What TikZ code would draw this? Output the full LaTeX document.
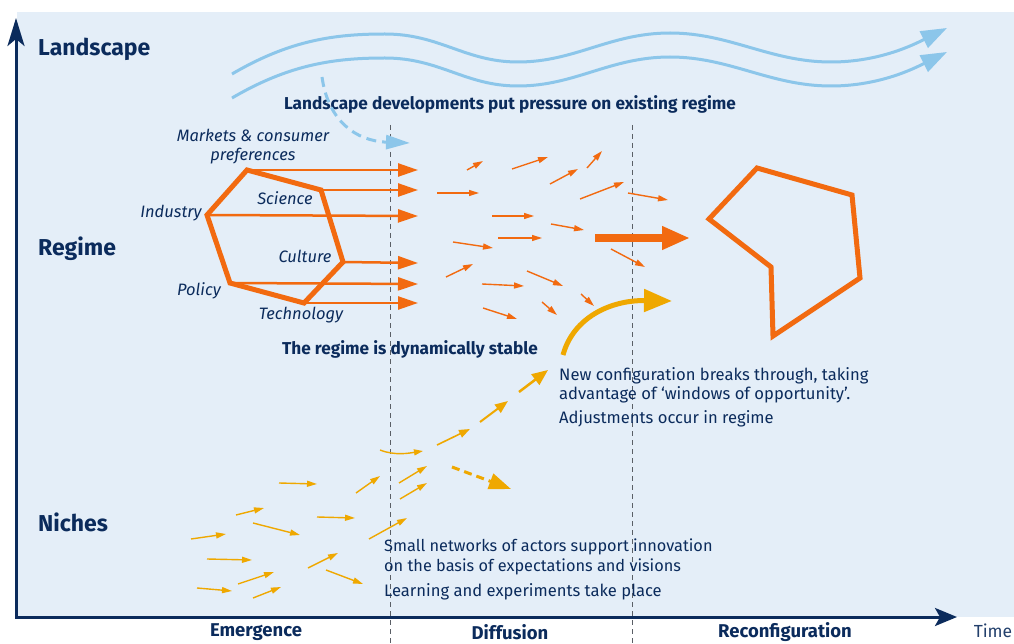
\documentclass[tikz,border=0pt]{standalone}
\usepackage{fontspec}
\setmainfont{Fira Sans}
\usetikzlibrary{arrows.meta}
\definecolor{navy}{HTML}{0B2B5C}
\definecolor{orng}{HTML}{F26A10}
\definecolor{gold}{HTML}{EFA800}
\definecolor{sky}{HTML}{8CC6EA}
\definecolor{bgblue}{HTML}{E4EEF8}
\definecolor{phaseline}{HTML}{5A5F66}
\tikzset{
  tierlabel/.style={text=navy, inner sep=0pt, anchor=west, font=\fontsize{23}{26}\selectfont\bfseries},
  factor/.style={text=navy, inner sep=0pt, font=\fontsize{16.5}{19}\selectfont\itshape},
  remark/.style={text=navy, inner sep=0pt, anchor=west, align=left, font=\fontsize{16.6}{19}\selectfont},
  boldnote/.style={text=navy, inner sep=0pt, font=\fontsize{17.2}{20}\selectfont\bfseries},
  phaselabel/.style={text=navy, inner sep=0pt, font=\fontsize{18.5}{21}\selectfont\bfseries},
  phasesep/.style={phaseline, line width=0.8pt, dash pattern=on 5pt off 4pt},
  regimeline/.style={orng, line width=5pt, line join=miter},
  pull/.style={orng, line width=2.5pt, -{Triangle[length=20pt,width=13pt]}},
  drift/.style={orng, line width=1.4pt, -{Triangle[length=10pt,width=6pt]}},
  seed/.style={gold, line width=1.4pt, -{Triangle[length=10pt,width=6pt]}},
  wave/.style={sky, line width=3pt, -{Triangle[length=26pt,width=18pt]}}
}
\begin{document}
\begin{tikzpicture}[x=1pt,y=-1pt]
\useasboundingbox (0,0) rectangle (1014,644);
\fill[bgblue] (17,12) rectangle (1014,617);

\coordinate (sepA top) at (390,125);
\coordinate (sepA bot) at (390,644);
\coordinate (sepB top) at (632,125);
\coordinate (sepB bot) at (632,644);
\draw[phasesep] (sepA top) -- (sepA bot);
\draw[phasesep] (sepB top) -- (sepB bot);

\coordinate (origin) at (16,617);
\coordinate (ytip) at (16,18);
\coordinate (xtip) at (957,617);
\draw[navy, line width=3pt, {Stealth[length=28pt,width=17pt,inset=7pt]}-{Stealth[length=22pt,width=18pt,inset=5pt]}]
    (ytip) -- (origin) -- (xtip);

\node[tierlabel] (landscape) at (38,49) {Landscape};
\node[tierlabel] (regime) at (38,249) {Regime};
\node[tierlabel] (niches) at (38,522) {Niches};

\node[phaselabel] (emergence) at (256,632) {Emergence};
\node[phaselabel] (diffusion) at (510,632) {Diffusion};
\node[phaselabel] (reconfig) at (785,632) {Reconfiguration};
\node[text=navy!90, inner sep=0pt, font=\fontsize{17.5}{20}\selectfont] (time) at (993,631) {Time};

\draw[wave] (232,74) .. controls (290,40) and (335,34) .. (385,34)
    .. controls (440,34) and (465,62) .. (518,62)
    .. controls (575,62) and (610,33) .. (670,33)
    .. controls (730,33) and (770,62) .. (831,62)
    .. controls (880,62) and (915,44) .. (947,28);
\draw[wave] (232,98) .. controls (290,64) and (335,58) .. (385,58)
    .. controls (440,58) and (465,86) .. (518,86)
    .. controls (575,86) and (610,57) .. (670,57)
    .. controls (730,57) and (770,86) .. (831,86)
    .. controls (880,86) and (915,68) .. (947,52);

\node[boldnote] (pressure) at (510,104) {Landscape developments put pressure on existing regime};
\coordinate (push a) at (322,77);
\coordinate (push b) at (410,143);
\draw[sky, line width=3pt, dash pattern=on 10pt off 6pt, -{Triangle[length=24pt,width=14pt]}]
    (push a) .. controls (328,120) and (355,141) .. (push b);

\coordinate (hxTop) at (247,170);
\coordinate (hxSci) at (321,190);
\coordinate (hxCul) at (343,262);
\coordinate (hxTec) at (304,303);
\coordinate (hxPol) at (230,283);
\coordinate (hxInd) at (207,215);
\draw[regimeline] (hxTop) -- (hxSci) -- (hxCul) -- (hxTec) -- (hxPol) -- (hxInd) -- cycle;
\foreach \c/\y in {hxTop/170, hxSci/190, hxInd/216, hxCul/263, hxPol/284, hxTec/303} {
    \coordinate (\c end) at (418,\y);
    \draw[pull] (\c) -- (\c end);
}

\node[factor, align=center] (markets) at (253,147) {Markets \& consumer\\preferences};
\node[factor] (science) at (285,198) {Science};
\node[factor] (industry) at (171,213) {Industry};
\node[factor] (culture) at (305,256) {Culture};
\node[factor] (policy) at (199,291) {Policy};
\node[factor] (technology) at (301,315) {Technology};

\foreach \i/\ax/\ay/\bx/\by in {1/467/170/483/161, 2/512/169/548/157, 3/550/184/578/169,
    4/587/168/602/151, 5/437/193/479/193, 6/580/199/624/182, 7/628/193/668/200,
    8/492/216/534/216, 9/551/224/584/230, 10/498/238/542/238, 11/453/242/493/248,
    12/611/249/645/267, 13/446/277/473/264, 14/482/284/524/286, 15/527/271/563/286,
    16/483/308/517/319, 17/542/302/557/315, 18/581/294/594/306} {
    \coordinate (dr\i a) at (\ax,\ay);
    \coordinate (dr\i b) at (\bx,\by);
    \draw[drift] (dr\i a) -- (dr\i b);
}
\coordinate (surge a) at (595,238);
\coordinate (surge b) at (690,238);
\draw[orng, line width=7.5pt, -{Triangle[length=28pt,width=22pt]}] (surge a) -- (surge b);

\coordinate (nc1) at (757,168);
\coordinate (nc2) at (852,195);
\coordinate (nc3) at (860,278);
\coordinate (nc4) at (773,336);
\coordinate (nc5) at (771,267);
\coordinate (nc6) at (709,219);
\draw[regimeline] (nc1) -- (nc2) -- (nc3) -- (nc4) -- (nc5) -- (nc6) -- cycle;

\node[boldnote, anchor=west] (stable) at (282,349) {The regime is dynamically stable};

\coordinate (brk a) at (563,355);
\coordinate (brk b) at (672,301);
\draw[gold, line width=5pt, -{Triangle[length=28pt,width=22pt]}]
    (brk a) .. controls (573,318) and (610,300) .. (brk b);

\node[remark] (breaks) at (559,385) {New configuration breaks through, taking\\advantage of ‘windows of opportunity’.};
\node[remark] (adjust) at (559,419) {Adjustments occur in regime};

\foreach \i/\ax/\ay/\bx/\by in {1/279/483/317/484, 2/356/493/380/476, 3/236/515/264/508,
    4/317/517/355/518, 5/253/523/300/535, 6/369/539/407/518, 7/191/539/226/534,
    8/207/559/252/560, 9/308/568/338/553, 10/326/570/363/584, 11/238/584/274/572,
    12/197/588/232/591, 13/253/598/281/587, 14/399/483/427/466, 15/400/499/427/483} {
    \coordinate (sd\i a) at (\ax,\ay);
    \coordinate (sd\i b) at (\bx,\by);
    \draw[seed] (sd\i a) -- (sd\i b);
}
\coordinate (ch1 a) at (380,450);
\coordinate (ch1 b) at (423,451);
\coordinate (ch2 a) at (437,445);
\coordinate (ch2 b) at (470,429);
\coordinate (ch3 a) at (480,422);
\coordinate (ch3 b) at (508,401);
\coordinate (ch4 a) at (519,392);
\coordinate (ch4 b) at (548,370);
\draw[gold, line width=1.4pt, -{Triangle[length=9pt,width=6pt]}] (ch1 a) .. controls (395,456) and (410,453) .. (ch1 b);
\draw[gold, line width=1.6pt, -{Triangle[length=11pt,width=8pt]}] (ch2 a) -- (ch2 b);
\draw[gold, line width=2pt, -{Triangle[length=13pt,width=10pt]}] (ch3 a) -- (ch3 b);
\draw[gold, line width=2.5pt, -{Triangle[length=16pt,width=13pt]}] (ch4 a) -- (ch4 b);
\coordinate (try a) at (452,467);
\coordinate (try b) at (511,489);
\draw[gold, line width=3pt, dash pattern=on 8pt off 5pt, -{Triangle[length=22pt,width=16pt]}] (try a) -- (try b);

\node[remark, align=left, font=\fontsize{16.3}{20}\selectfont] (networks) at (384,557) {Small networks of actors support innovation\\on the basis of expectations and visions};
\node[remark] (learning) at (384,592) {Learning and experiments take place};
\end{tikzpicture}
\end{document}
